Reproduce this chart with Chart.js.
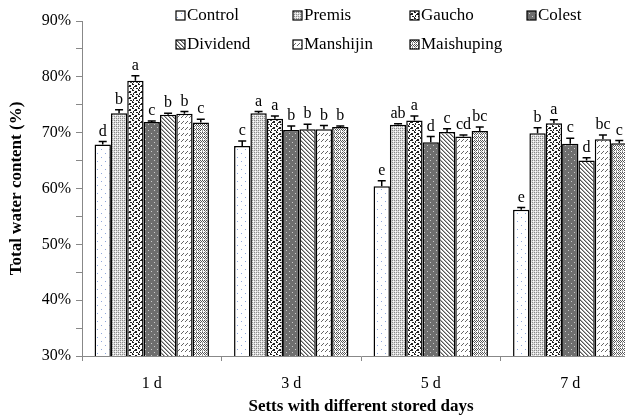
<!DOCTYPE html>
<html>
<head>
<meta charset="utf-8">
<script src="https://cdn.jsdelivr.net/npm/chart.js@4.4.1/dist/chart.umd.min.js"></script>
<style>
 html, body { margin: 0; padding: 0; background: #fff; overflow: hidden; }
 #wrap { position: absolute; left: 0; top: 0; width: 645px; height: 415px; }
</style>
</head>
<body>
<div id="wrap"><canvas id="chart" width="645" height="415"></canvas></div>
<script>
const days = ["1 d", "3 d", "5 d", "7 d"];
const treatments = ["Control", "Premis", "Gaucho", "Colest", "Dividend", "Manshijin", "Maishuping"];

const control = [67.9, 67.6, 60.4, 56.2];
const premis = [73.5, 73.5, 71.4, 69.9];
const gaucho = [79.3, 72.5, 72.2, 71.7];
const colest = [71.9, 70.5, 68.3, 68.0];
const dividend = [73.2, 70.6, 70.1, 65.0];
const manshijin = [73.4, 70.6, 69.3, 68.8];
const maishuping = [71.8, 71.0, 70.3, 68.1];

const controlErr = [0.5, 0.9, 1.0, 0.4];
const premisErr = [0.6, 0.3, 0.2, 1.0];
const gauchoErr = [0.9, 0.5, 0.8, 0.6];
const colestErr = [0.2, 0.7, 1.0, 1.0];
const dividendErr = [0.3, 0.9, 0.6, 0.5];
const manshijinErr = [0.4, 0.7, 0.3, 0.8];
const maishupingErr = [0.6, 0.2, 0.7, 0.5];

const controlSig = ["d", "c", "e", "e"];
const premisSig = ["b", "a", "ab", "b"];
const gauchoSig = ["a", "a", "a", "a"];
const colestSig = ["c", "b", "d", "c"];
const dividendSig = ["b", "b", "c", "d"];
const manshijinSig = ["b", "b", "cd", "bc"];
const maishupingSig = ["c", "b", "bc", "c"];

const yTicks = [30, 40, 50, 60, 70, 80, 90];

const ctx = document.getElementById("chart").getContext("2d");

// small tiles for the hatch fills
function tile(w, h, draw) {
 const c = document.createElement("canvas");
 c.width = w; c.height = h;
 const g = c.getContext("2d");
 draw(g);
 return ctx.createPattern(c, "repeat");
}
function px(g, col, pts) {
 g.fillStyle = col;
 pts.forEach(p => g.fillRect(p[0], p[1], p[2] || 1, p[3] || 1));
}

const fills = [
 tile(8, 8, g => { g.fillStyle = "#fff"; g.fillRect(0, 0, 8, 8); px(g, "#8fa8dc", [[1, 1], [5, 5]]); }),
 tile(4, 4, g => { g.fillStyle = "#dcdcdc"; g.fillRect(0, 0, 4, 4); px(g, "#8a8a8a", [[0, 0], [2, 2], [2, 0], [0, 2]]); px(g, "#fff", [[1, 1], [3, 3]]); }),
 tile(6, 6, g => { g.fillStyle = "#fff"; g.fillRect(0, 0, 6, 6); px(g, "#222", [[0, 0, 2, 1], [3, 1, 2, 2], [1, 3, 1, 2], [4, 4, 2, 1], [0, 5, 1, 1], [2, 2, 1, 1]]); }),
 tile(6, 6, g => { g.fillStyle = "#6e6e6e"; g.fillRect(0, 0, 6, 6); px(g, "#ccc", [[1, 1], [4, 4]]); }),
 tile(4, 4, g => { g.fillStyle = "#fff"; g.fillRect(0, 0, 4, 4); px(g, "#555", [[0, 0], [1, 1], [2, 2], [3, 3]]); px(g, "#aaa", [[1, 0], [2, 1], [3, 2], [0, 3]]); }),
 tile(8, 6, g => { g.fillStyle = "#fff"; g.fillRect(0, 0, 8, 6); px(g, "#666", [[1, 3], [2, 2], [3, 1], [5, 3], [6, 2], [7, 1]]); }),
 tile(6, 4, g => { g.fillStyle = "#fff"; g.fillRect(0, 0, 6, 4); px(g, "#555", [[0, 0], [1, 1], [2, 2], [3, 1], [4, 0], [5, 1], [0, 2], [2, 0]]); px(g, "#999", [[1, 3], [4, 2], [4, 3]]); })
];

const seriesValues = [control, premis, gaucho, colest, dividend, manshijin, maishuping];
const seriesErr = [controlErr, premisErr, gauchoErr, colestErr, dividendErr, manshijinErr, maishupingErr];
const seriesSig = [controlSig, premisSig, gauchoSig, colestSig, dividendSig, manshijinSig, maishupingSig];

const serif = "'Liberation Serif', 'Times New Roman', serif";

// error bars + letters above them
const errorBars = {
 id: "errorBars",
 afterDatasetsDraw(chart) {
  const y = chart.scales.y;
  const g = chart.ctx;
  g.save();
  g.strokeStyle = "#000";
  g.lineWidth = 1.5;
  g.fillStyle = "#000";
  g.font = "16px " + serif;
  g.textAlign = "center";
  g.textBaseline = "bottom";
  chart.data.datasets.forEach((ds, i) => {
   chart.getDatasetMeta(i).data.forEach((bar, j) => {
    const top = y.getPixelForValue(ds.data[j] + seriesErr[i][j]);
    g.beginPath();
    g.moveTo(bar.x, bar.y);
    g.lineTo(bar.x, top);
    g.moveTo(bar.x - 4, top);
    g.lineTo(bar.x + 4, top);
    g.stroke();
    g.fillText(seriesSig[i][j], bar.x, top - 2);
   });
  });
  g.restore();
 }
};

// legend in 4 columns x 2 rows, drawn over the plot
const gridLegend = {
 id: "gridLegend",
 afterDraw(chart) {
  const g = chart.ctx;
  const cols = [176, 293, 410, 527];
  const rows = [16, 45];
  g.save();
  g.font = "17px " + serif;
  g.textBaseline = "middle";
  g.textAlign = "left";
  chart.data.datasets.forEach((ds, i) => {
   const x = cols[i % 4];
   const yy = rows[Math.floor(i / 4)];
   g.fillStyle = ds.backgroundColor;
   g.fillRect(x, yy - 5, 9, 9);
   g.strokeStyle = "#000";
   g.lineWidth = 1.2;
   g.strokeRect(x, yy - 5, 9, 9);
   g.fillStyle = "#000";
   g.fillText(ds.label, x + 11, yy);
  });
  g.restore();
 }
};

new Chart(ctx, {
 type: "bar",
 data: {
  labels: days,
  datasets: treatments.map((name, i) => ({
   label: name,
   data: seriesValues[i],
   backgroundColor: fills[i],
   borderColor: "#000",
   borderWidth: 1.5,
   borderSkipped: false,
   categoryPercentage: 0.82,
   barPercentage: 1
  }))
 },
 options: {
  responsive: false,
  animation: false,
  layout: { padding: { top: 21, right: 5, bottom: 0, left: 0 } },
  plugins: { legend: { display: false }, tooltip: { enabled: false } },
  scales: {
   x: {
    grid: { offset: true, drawOnChartArea: false, tickLength: 5, color: "#888" },
    border: { color: "#888", width: 1 },
    ticks: { color: "#000", padding: 13, font: { family: serif, size: 16 } },
    title: { display: true, text: "Setts with different stored days", color: "#000", padding: { top: 0, bottom: 0 }, font: { family: serif, size: 17, weight: "bold", lineHeight: 1 } },
    afterFit(s) { s.height = 59; }
   },
   y: {
    min: yTicks[0],
    max: yTicks[yTicks.length - 1],
    ticks: {
     stepSize: 5,
     color: "#000",
     padding: 5,
     font: { family: serif, size: 16 },
     callback: v => yTicks.includes(v) ? v + "%" : ""
    },
    grid: { drawOnChartArea: false, tickLength: 6, color: "#888" },
    border: { color: "#888", width: 1 },
    title: { display: true, text: "Total water content (%)", color: "#000", padding: { top: 8, bottom: 0 }, font: { family: serif, size: 17, weight: "bold", lineHeight: 1 } },
    afterFit(s) { s.width = 82; }
   }
  }
 },
 plugins: [errorBars, gridLegend]
});
</script>
</body>
</html>
